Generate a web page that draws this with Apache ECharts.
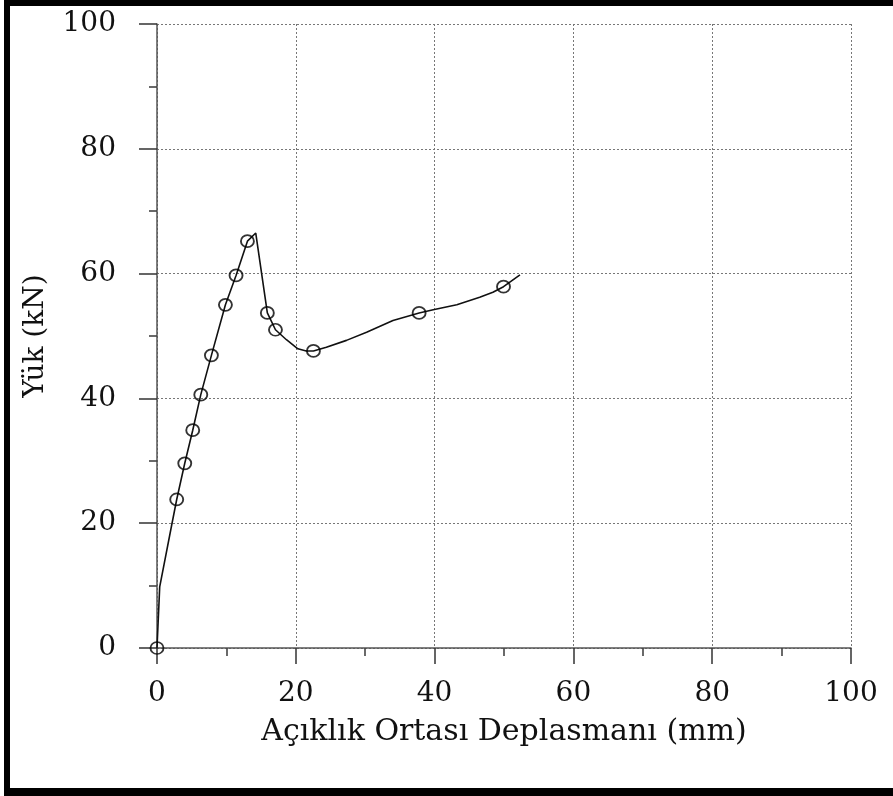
<!DOCTYPE html>
<html>
<head>
<meta charset="utf-8">
<script src="https://cdn.jsdelivr.net/npm/echarts@6/dist/echarts.min.js"></script>
<style>
html,body{margin:0;padding:0;background:#fff;}
#c{width:893px;height:796px;}
</style>
</head>
<body>
<div id="c"></div>
<script>
// Load-displacement curve (x: mm, y: kN)
const curveX = [0, 0.39, 2.16, 2.84, 4.0, 5.15, 6.31, 7.84, 9.86, 11.39, 13.03, 14.23, 15.9, 17.07, 18.65, 20.3, 21.5, 22.54, 24.4, 27.3, 30.2, 34.0, 37.77, 39.8, 43.2, 46.5, 48.4, 49.93, 52.3];
const curveY = [0, 9.8, 19.95, 23.8, 29.6, 34.9, 40.6, 46.9, 55.0, 59.7, 65.2, 66.5, 53.7, 51.0, 49.4, 47.95, 47.6, 47.6, 48.2, 49.3, 50.6, 52.5, 53.7, 54.2, 55.0, 56.2, 57.0, 57.9, 59.8];
// Circle markers
const markerX = [0, 2.84, 4.0, 5.15, 6.31, 7.84, 9.86, 11.39, 13.03, 15.9, 17.07, 22.54, 37.77, 49.93];
const markerY = [0, 23.8, 29.6, 34.9, 40.6, 46.9, 55.0, 59.7, 65.2, 53.7, 51.0, 47.6, 53.7, 57.9];
const xTicks = [0, 20, 40, 60, 80, 100];
const yTicks = [0, 20, 40, 60, 80, 100];
const xName = 'Açıklık Ortası Deplasmanı (mm)';
const yName = 'Yük (kN)';

const FONT = 'DejaVu Serif';
const chart = echarts.init(document.getElementById('c'), null, {renderer: 'canvas'});

const curve = curveX.map((x, i) => [x, curveY[i]]);
const markers = markerX.map((x, i) => [x, markerY[i]]);

chart.setOption({
  animation: false,
  backgroundColor: '#fff',
  grid: {left: 157, right: 42, top: 24, bottom: 148, containLabel: false},
  xAxis: {
    type: 'value', min: xTicks[0], max: xTicks[xTicks.length - 1], interval: 20,
    name: xName, nameLocation: 'middle', nameGap: 69,
    nameTextStyle: {fontFamily: FONT, fontSize: 30, color: '#111'},
    axisLine: {show: true, onZero: false, lineStyle: {color: '#555', width: 1.5}},
    axisTick: {show: true, length: 16, lineStyle: {color: '#333', width: 1.5}},
    minorTick: {show: true, splitNumber: 2, length: 8, lineStyle: {color: '#444', width: 1.6}},
    axisLabel: {fontFamily: FONT, fontSize: 28, color: '#111', margin: 32},
    splitLine: {show: true, lineStyle: {color: '#777', type: [2, 2], width: 1}}
  },
  yAxis: {
    type: 'value', min: yTicks[0], max: yTicks[yTicks.length - 1], interval: 20,
    name: yName, nameLocation: 'middle', nameGap: 107,
    nameTextStyle: {fontFamily: FONT, fontSize: 28, color: '#111'},
    axisLine: {show: true, onZero: false, lineStyle: {color: '#555', width: 1.5}},
    axisTick: {show: true, length: 18, lineStyle: {color: '#333', width: 1.5}},
    minorTick: {show: true, splitNumber: 2, length: 8, lineStyle: {color: '#444', width: 1.6}},
    axisLabel: {fontFamily: FONT, fontSize: 28, color: '#111', margin: 41},
    splitLine: {show: true, lineStyle: {color: '#777', type: [2, 2], width: 1}}
  },
  graphic: [
    {type: 'rect', shape: {x: 4, y: 0, width: 6, height: 796}, style: {fill: '#000'}, z: 100},
    {type: 'rect', shape: {x: 4, y: 0, width: 889, height: 6}, style: {fill: '#000'}, z: 100},
    {type: 'rect', shape: {x: 4, y: 788, width: 889, height: 8}, style: {fill: '#000'}, z: 100}
  ],
  series: [
    {
      type: 'line', data: curve, showSymbol: false, symbol: 'none',
      lineStyle: {color: '#111', width: 1.6}, z: 3
    },
    {
      type: 'scatter', data: markers, symbol: 'circle', symbolSize: [13, 12],
      itemStyle: {color: 'rgba(0,0,0,0)', borderColor: '#000', borderWidth: 1.8}, z: 4
    }
  ]
});
</script>
</body>
</html>
